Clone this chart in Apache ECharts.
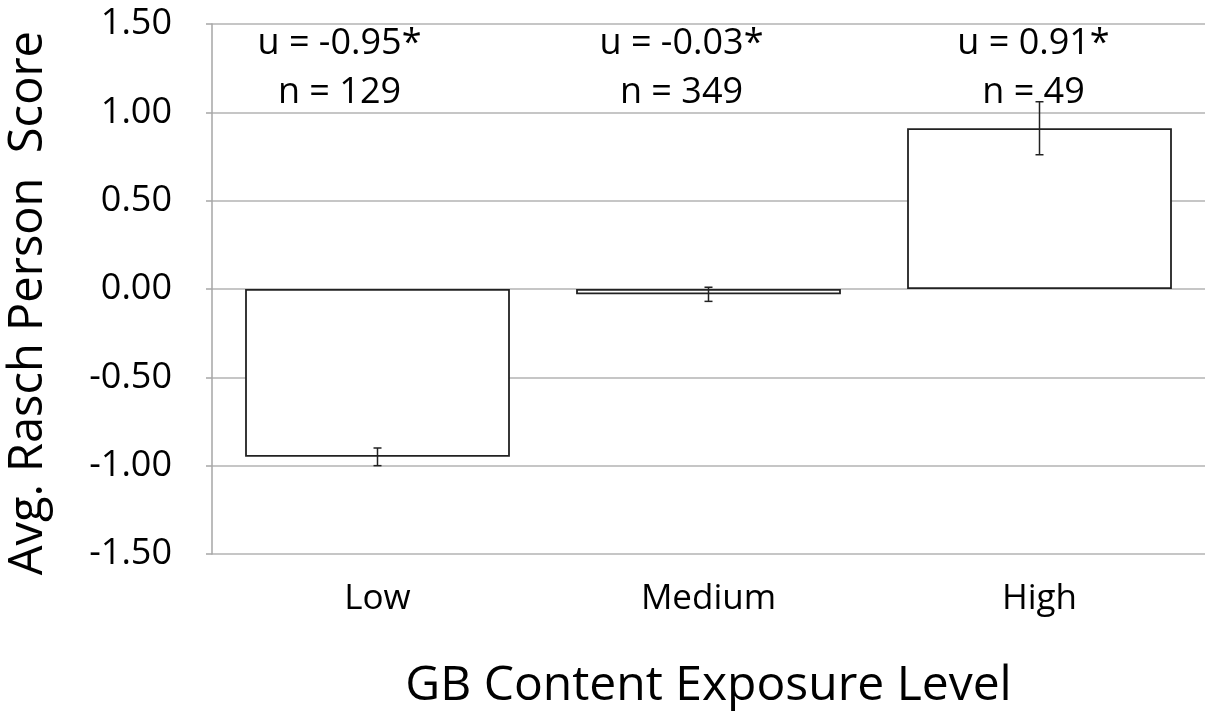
<!DOCTYPE html>
<html>
<head>
<meta charset="utf-8">
<script src="https://cdn.jsdelivr.net/npm/echarts@6/dist/echarts.min.js"></script>
<style>
html,body{margin:0;padding:0;background:#fff;overflow:hidden;}
#chart{width:1205px;height:715px;}
</style>
</head>
<body>
<div id="chart"></div>
<script>
var categories = ['Low', 'Medium', 'High'];
var means = [-0.95, -0.03, 0.91];
var errors = [0.05, 0.04, 0.15];
var nValues = [129, 349, 49];
var meanLabels = ['u = -0.95*', 'u = -0.03*', 'u = 0.91*'];
var yTicks = { min: -1.5, max: 1.5, interval: 0.5 };
var xTitle = 'GB Content Exposure Level';
var yTitle = 'Avg. Rasch Person  Score';

// style: horizontal pixel offsets of the annotation text boxes from the category centre
var LABEL_OFFSETS = [-38, -27, -6];
var FONT = 'Open Sans';
var chart = echarts.init(document.getElementById('chart'), null, { renderer: 'canvas', width: 1205, height: 715 });

var errData = means.map(function (m, i) { return [i, m - errors[i], m + errors[i]]; });
var labelData = categories.map(function (c, i) { return [i, meanLabels[i], 'n = ' + nValues[i]]; });

chart.setOption({
  animation: false,
  backgroundColor: '#ffffff',
  textStyle: { fontFamily: FONT },
  grid: { left: 212, top: 24, width: 1000, height: 536, containLabel: false },
  xAxis: {
    type: 'category',
    data: categories,
    axisLine: { show: false },
    axisTick: { show: false },
    axisLabel: { color: '#000', fontSize: 35, fontFamily: FONT, margin: 28 },
    name: xTitle,
    nameLocation: 'middle',
    nameGap: 108,
    nameTextStyle: { color: '#000', fontSize: 48, fontFamily: FONT }
  },
  yAxis: {
    type: 'value',
    min: yTicks.min,
    max: yTicks.max,
    interval: yTicks.interval,
    axisLine: { show: true, lineStyle: { color: '#a6a6a6', width: 1.5 } },
    axisTick: { show: true, inside: false, length: 6, lineStyle: { color: '#a6a6a6', width: 1.5 } },
    axisLabel: {
      color: '#000', fontSize: 36, fontFamily: FONT, margin: 40,
      formatter: function (v) { return v.toFixed(2); }
    },
    splitLine: { show: true, lineStyle: { color: '#b3b3b3', width: 1.5 } }
  },
  graphic: [{
    type: 'text',
    left: 5,
    top: 31,
    rotation: Math.PI / 2,
    style: { text: yTitle, fill: '#000', font: '47px "' + FONT + '"' },
    silent: true
  }],
  series: [
    {
      type: 'bar',
      data: means,
      barCategoryGap: '20%',
      itemStyle: { color: '#ffffff', borderColor: '#222', borderWidth: 1.8 },
      z: 2
    },
    {
      type: 'custom',
      data: errData,
      z: 3,
      renderItem: function (params, api) {
        var x = api.value(0);
        var lo = api.coord([x, api.value(1)]);
        var hi = api.coord([x, api.value(2)]);
        var cap = 4;
        var st = { stroke: '#222', lineWidth: 1.5 };
        return {
          type: 'group',
          children: [
            { type: 'line', shape: { x1: lo[0], y1: lo[1], x2: hi[0], y2: hi[1] }, style: st },
            { type: 'line', shape: { x1: lo[0] - cap, y1: lo[1], x2: lo[0] + cap, y2: lo[1] }, style: st },
            { type: 'line', shape: { x1: hi[0] - cap, y1: hi[1], x2: hi[0] + cap, y2: hi[1] }, style: st }
          ]
        };
      }
    },
    {
      type: 'custom',
      data: labelData,
      z: 4,
      renderItem: function (params, api) {
        var x = api.value(0);
        var i = params.dataIndex;
        var p1 = api.coord([x, 1.39]);
        var p2 = api.coord([x, 1.11]);
        var dx = LABEL_OFFSETS[i];
        var font = '36px "' + FONT + '"';
        return {
          type: 'group',
          children: [
            { type: 'text', style: { text: labelData[i][1], x: p1[0] + dx, y: p1[1], align: 'center', verticalAlign: 'middle', fill: '#000', font: font } },
            { type: 'text', style: { text: labelData[i][2], x: p2[0] + dx, y: p2[1], align: 'center', verticalAlign: 'middle', fill: '#000', font: font } }
          ]
        };
      }
    }
  ]
});
</script>
</body>
</html>
